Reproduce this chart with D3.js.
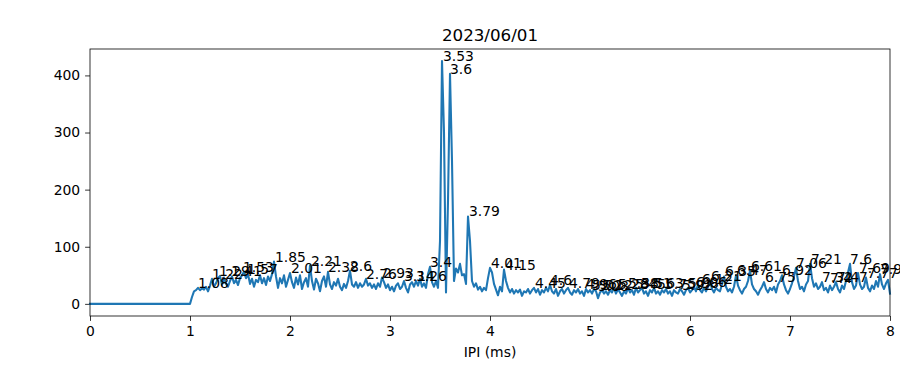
<!DOCTYPE html>
<html>
<head>
<meta charset="utf-8">
<script src="https://d3js.org/d3.v7.min.js"></script>
<style>
  body { margin: 0; background: #fff; }
  text { font-family: "DejaVu Sans", sans-serif; }
</style>
</head>
<body>
<svg id="chart" width="900" height="366"></svg>
<script>
// histogram of IPI, 0.02 ms bins starting at 0
let binStart = 0, binStep = 0.02;
let counts = [
  0,0,0,0,0,0,0,0,0,0, 0,0,0,0,0,0,0,0,0,0, 0,0,0,0,0,0,0,0,0,0,
  0,0,0,0,0,0,0,0,0,0, 0,0,0,0,0,0,0,0,0,0,
  // 1.00
  0,12,22,24,28,24,27,25,30,22, 32,44,30,36,45,49,33,46,35,30,
  40,48,36,42,33,45,50,56,45,52, 35,44,30,42,38,50,36,45,33,48,
  40,52,74,48,28,45,36,50,30,42,
  // 2.00
  54,38,28,46,34,50,26,38,45,30, 67,40,25,44,36,22,40,48,30,56,
  34,26,38,32,44,30,24,35,28,40, 58,34,30,38,28,36,30,34,44,32,
  36,28,34,26,36,30,46,38,28,34,
  // 3.00
  24,30,22,32,36,26,30,40,28,20, 34,38,30,40,32,44,30,36,28,52,
  65,38,30,40,28,110,425,300,20,180, 403,250,40,62,55,70,50,52,35,153,
  110,40,30,36,25,30,22,28,24,45,
  // 4.00
  63,55,35,25,15,30,22,60,40,28, 20,26,18,24,20,25,14,22,20,26,
  18,24,28,20,26,16,24,20,28,22, 33,22,18,26,14,22,26,18,24,28,
  20,16,24,20,26,18,22,14,26,20,
  // 5.00
  24,18,26,22,10,20,24,18,22,16, 24,20,28,18,26,20,14,22,18,28,
  20,24,16,28,20,24,28,18,22,14, 24,20,28,18,22,16,24,20,26,18,
  22,14,24,20,18,26,22,16,24,28,
  // 6.00
  20,24,30,22,34,24,20,28,22,30, 40,26,20,28,24,22,34,48,30,22,
  26,20,30,50,32,24,18,26,30,40, 58,34,26,22,16,24,30,38,26,20,
  28,24,30,20,34,40,50,34,24,18,
  // 7.00
  26,36,48,63,40,26,30,22,34,40, 70,45,30,36,26,30,38,24,28,20,
  32,24,30,38,26,20,32,26,40,55, 70,38,26,32,54,34,26,30,46,28,
  22,32,26,40,30,52,34,26,36,42,
  // 8.00
  18
];

// labelled peaks
let peakIpi = [1.08,1.22,1.29,1.41,1.53,1.57,1.85,2.01,2.21,2.38,2.6,2.76,2.93,3.14,3.26,3.4,
  3.53,3.6,3.79,4.01,4.15,4.45,4.6,4.79,4.96,5.02,5.08,5.12,5.28,5.38,5.45,5.51,5.63,5.75,
  5.92,5.98,6.06,6.12,6.21,6.35,6.47,6.61,6.75,6.92,7.06,7.21,7.32,7.4,7.47,7.6,7.69,7.77,7.9];
let peakCount = [28,44,49,48,56,52,74,54,67,56,58,44,46,40,40,65,
  425,403,153,63,60,28,33,28,26,24,22,24,26,28,26,28,28,26,
  24,28,30,34,40,48,50,58,38,50,63,70,38,36,38,70,54,46,52];

let xTicks = [0,1,2,3,4,5,6,7,8];
let yTicks = [0,100,200,300,400];
let titleText = "2023/06/01";
let xLabel = "IPI (ms)";

let margin = {top: 49, right: 10, bottom: 50, left: 90};
let svgWidth = 900, svgHeight = 366;
let width = svgWidth - margin.left - margin.right,
    height = svgHeight - margin.top - margin.bottom;

let data = counts.map((c, i) => ({ipi: binStart + i * binStep, count: c}));

let x = d3.scaleLinear().domain([0, 8]).range([0, width]);
let yMax = d3.max(counts), yPad = yMax * 0.05;
let y = d3.scaleLinear().domain([-yPad, yMax + yPad]).range([height, 0]);

let svg = d3.select("#chart");
let g = svg.append("g")
    .attr("transform", "translate(" + margin.left + "," + margin.top + ")");

let fontPx = 13.9;

g.append("g")
    .attr("transform", "translate(0," + height + ")")
    .call(d3.axisBottom(x).tickValues(xTicks).tickFormat(d3.format("d"))
        .tickSize(4.9).tickPadding(4.9))
    .call(a => a.selectAll("text").attr("font-size", fontPx).attr("fill", "#000"));

g.append("g")
    .call(d3.axisLeft(y).tickValues(yTicks).tickFormat(d3.format("d"))
        .tickSize(4.9).tickPadding(4.9))
    .call(a => a.selectAll("text").attr("font-size", fontPx).attr("fill", "#000"));

g.selectAll(".domain").remove();
g.selectAll(".tick line").attr("stroke", "#000").attr("stroke-width", 0.8);

// the line
g.append("path")
    .datum(data)
    .attr("fill", "none")
    .attr("stroke", "#1f77b4")
    .attr("stroke-width", 2.08)
    .attr("stroke-linejoin", "round")
    .attr("stroke-linecap", "square")
    .attr("d", d3.line().x(d => x(d.ipi)).y(d => y(d.count)));

// frame
g.append("rect")
    .attr("width", width).attr("height", height)
    .attr("fill", "none").attr("stroke", "#000").attr("stroke-width", 0.8);

// peak labels
g.selectAll(".peak")
    .data(peakIpi)
    .enter()
    .append("text")
    .attr("class", "peak")
    .attr("x", d => x(d))
    .attr("y", (d, i) => y(peakCount[i]))
    .attr("font-size", fontPx)
    .attr("fill", "#000")
    .text(d => d);

svg.append("text")
    .attr("x", margin.left + width / 2)
    .attr("y", margin.top - 8)
    .attr("text-anchor", "middle")
    .attr("font-size", 16.7)
    .text(titleText);

svg.append("text")
    .attr("x", margin.left + width / 2)
    .attr("y", 357)
    .attr("text-anchor", "middle")
    .attr("font-size", fontPx)
    .text(xLabel);
</script>
</body>
</html>
